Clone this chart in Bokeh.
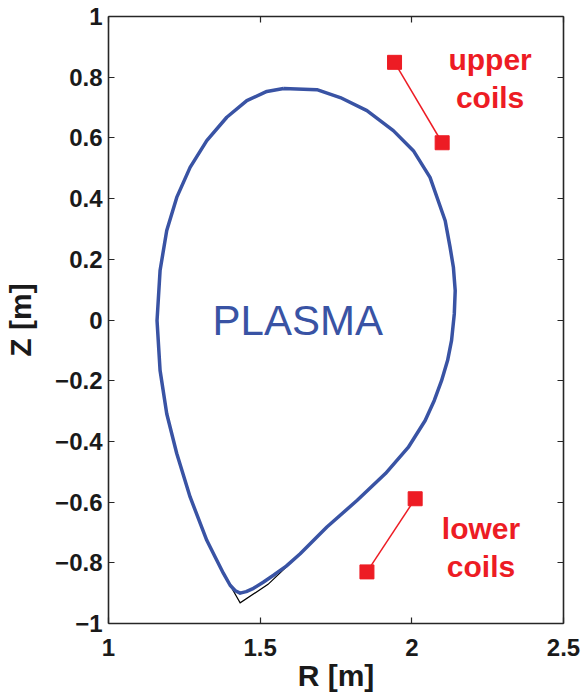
from bokeh.plotting import figure
from bokeh.models import LinearAxis, FixedTicker, CustomJSTickFormatter, Range1d
from bokeh.core.properties import value
from bokeh.embed import file_html
from bokeh.resources import INLINE

# ---- data (R, Z in metres) ----
plasma_R = [1.577, 1.522, 1.456, 1.390, 1.324, 1.269, 1.225, 1.192, 1.170, 1.160,
            1.170, 1.192, 1.225, 1.269, 1.324, 1.352, 1.379, 1.401, 1.418, 1.434,
            1.454, 1.478, 1.510, 1.544, 1.586, 1.632, 1.720, 1.820, 1.913, 1.988,
            2.044, 2.074, 2.098, 2.118, 2.131, 2.140, 2.143, 2.137, 2.126, 2.110,
            2.060, 2.005, 1.939, 1.852, 1.764, 1.687, 1.577]
plasma_Z = [0.763, 0.753, 0.723, 0.668, 0.591, 0.503, 0.404, 0.295, 0.163, -0.002,
            -0.166, -0.309, -0.440, -0.583, -0.726, -0.782, -0.835, -0.874, -0.892, -0.900,
            -0.895, -0.884, -0.864, -0.841, -0.811, -0.770, -0.682, -0.594, -0.506, -0.420,
            -0.331, -0.265, -0.200, -0.133, -0.067, 0.020, 0.097, 0.174, 0.240, 0.327,
            0.470, 0.558, 0.624, 0.690, 0.733, 0.759, 0.763]

separatrix_R = [1.324, 1.379, 1.434, 1.526, 1.632]
separatrix_Z = [-0.726, -0.835, -0.932, -0.871, -0.770]

upper_coils_R = [1.943, 2.100]
upper_coils_Z = [0.849, 0.584]
lower_coils_R = [2.011, 1.852]
lower_coils_Z = [-0.589, -0.830]

x_ticks = [1, 1.5, 2, 2.5]
y_ticks = [-1, -0.8, -0.6, -0.4, -0.2, 0, 0.2, 0.4, 0.6, 0.8, 1]

BLUE = "#3953A4"
RED = "#ED1C24"
AXC = "#262626"
FONT = "Liberation Sans"

p = figure(frame_width=455, frame_height=607,
           x_range=Range1d(1, 2.5), y_range=Range1d(-1, 1),
           output_backend="svg", toolbar_location=None,
           min_border_left=108, min_border_top=16, min_border_right=18,
           min_border_bottom=68)
p.grid.visible = False
p.outline_line_color = None
p.background_fill_color = "white"
p.border_fill_color = "white"

xax = p.below[0]
yax = p.left[0]
xax.axis_label = "R [m]"
yax.axis_label = "Z [m]"

xax.ticker = FixedTicker(ticks=x_ticks)
yax.ticker = FixedTicker(ticks=y_ticks)
xax.formatter = CustomJSTickFormatter(code="return (Math.round(tick*10)/10).toString();")
yax.formatter = CustomJSTickFormatter(
    code="const s=(Math.round(Math.abs(tick)*10)/10).toString(); return tick < -1e-9 ? '\\u2212'+s : s;")

top_ax = LinearAxis(ticker=FixedTicker(ticks=x_ticks))
right_ax = LinearAxis(ticker=FixedTicker(ticks=y_ticks))
p.add_layout(top_ax, "above")
p.add_layout(right_ax, "right")

for ax in [xax, yax, top_ax, right_ax]:
    ax.axis_line_color = AXC
    ax.axis_line_width = 1.6
    ax.major_tick_line_color = AXC
    ax.major_tick_line_width = 1.2
    ax.major_tick_in = 6
    ax.major_tick_out = 0
    ax.minor_tick_line_color = None
    ax.major_label_text_font = FONT
    ax.major_label_text_font_style = "bold"
    ax.major_label_text_font_size = "24px"
    ax.major_label_text_color = "#1a1a1a"
    ax.axis_label_text_font = FONT
    ax.axis_label_text_font_style = "bold"
    ax.axis_label_text_font_size = "30px"
    ax.axis_label_text_color = "#1a1a1a"

for ax in [top_ax, right_ax]:
    ax.major_label_text_font_size = "0px"
    ax.major_label_standoff = 0

xax.major_label_standoff = 15
yax.major_label_standoff = 6
xax.axis_label_standoff = 0
yax.axis_label_standoff = 15

# separatrix (thin black) under plasma boundary
p.line(separatrix_R, separatrix_Z, line_color="black", line_width=1.2, line_join="miter")
p.line(plasma_R, plasma_Z, line_color=BLUE, line_width=3.5, line_join="round")

# coils
p.line(upper_coils_R, upper_coils_Z, line_color=RED, line_width=1.5)
p.line(lower_coils_R, lower_coils_Z, line_color=RED, line_width=1.5)
p.scatter(upper_coils_R, upper_coils_Z, marker="square", size=14, fill_color=RED, line_color=RED)
p.scatter(lower_coils_R, lower_coils_Z, marker="square", size=14, fill_color=RED, line_color=RED)

# texts
p.text(x=[1.624], y=[0.0], text=["PLASMA"], text_font=value(FONT), text_font_size="42px",
       text_color=BLUE, text_align="center", text_baseline="alphabetic")
p.text(x=[2.258, 2.258], y=[0.857, 0.733], text=["upper", "coils"], text_font=value(FONT),
       text_font_style="bold", text_font_size="30px", text_color=RED,
       text_align="center", text_baseline="alphabetic")
p.text(x=[2.228, 2.228], y=[-0.686, -0.811], text=["lower", "coils"], text_font=value(FONT),
       text_font_style="bold", text_font_size="30px", text_color=RED,
       text_align="center", text_baseline="alphabetic")

open("out.html", "w").write(file_html(p, INLINE))
